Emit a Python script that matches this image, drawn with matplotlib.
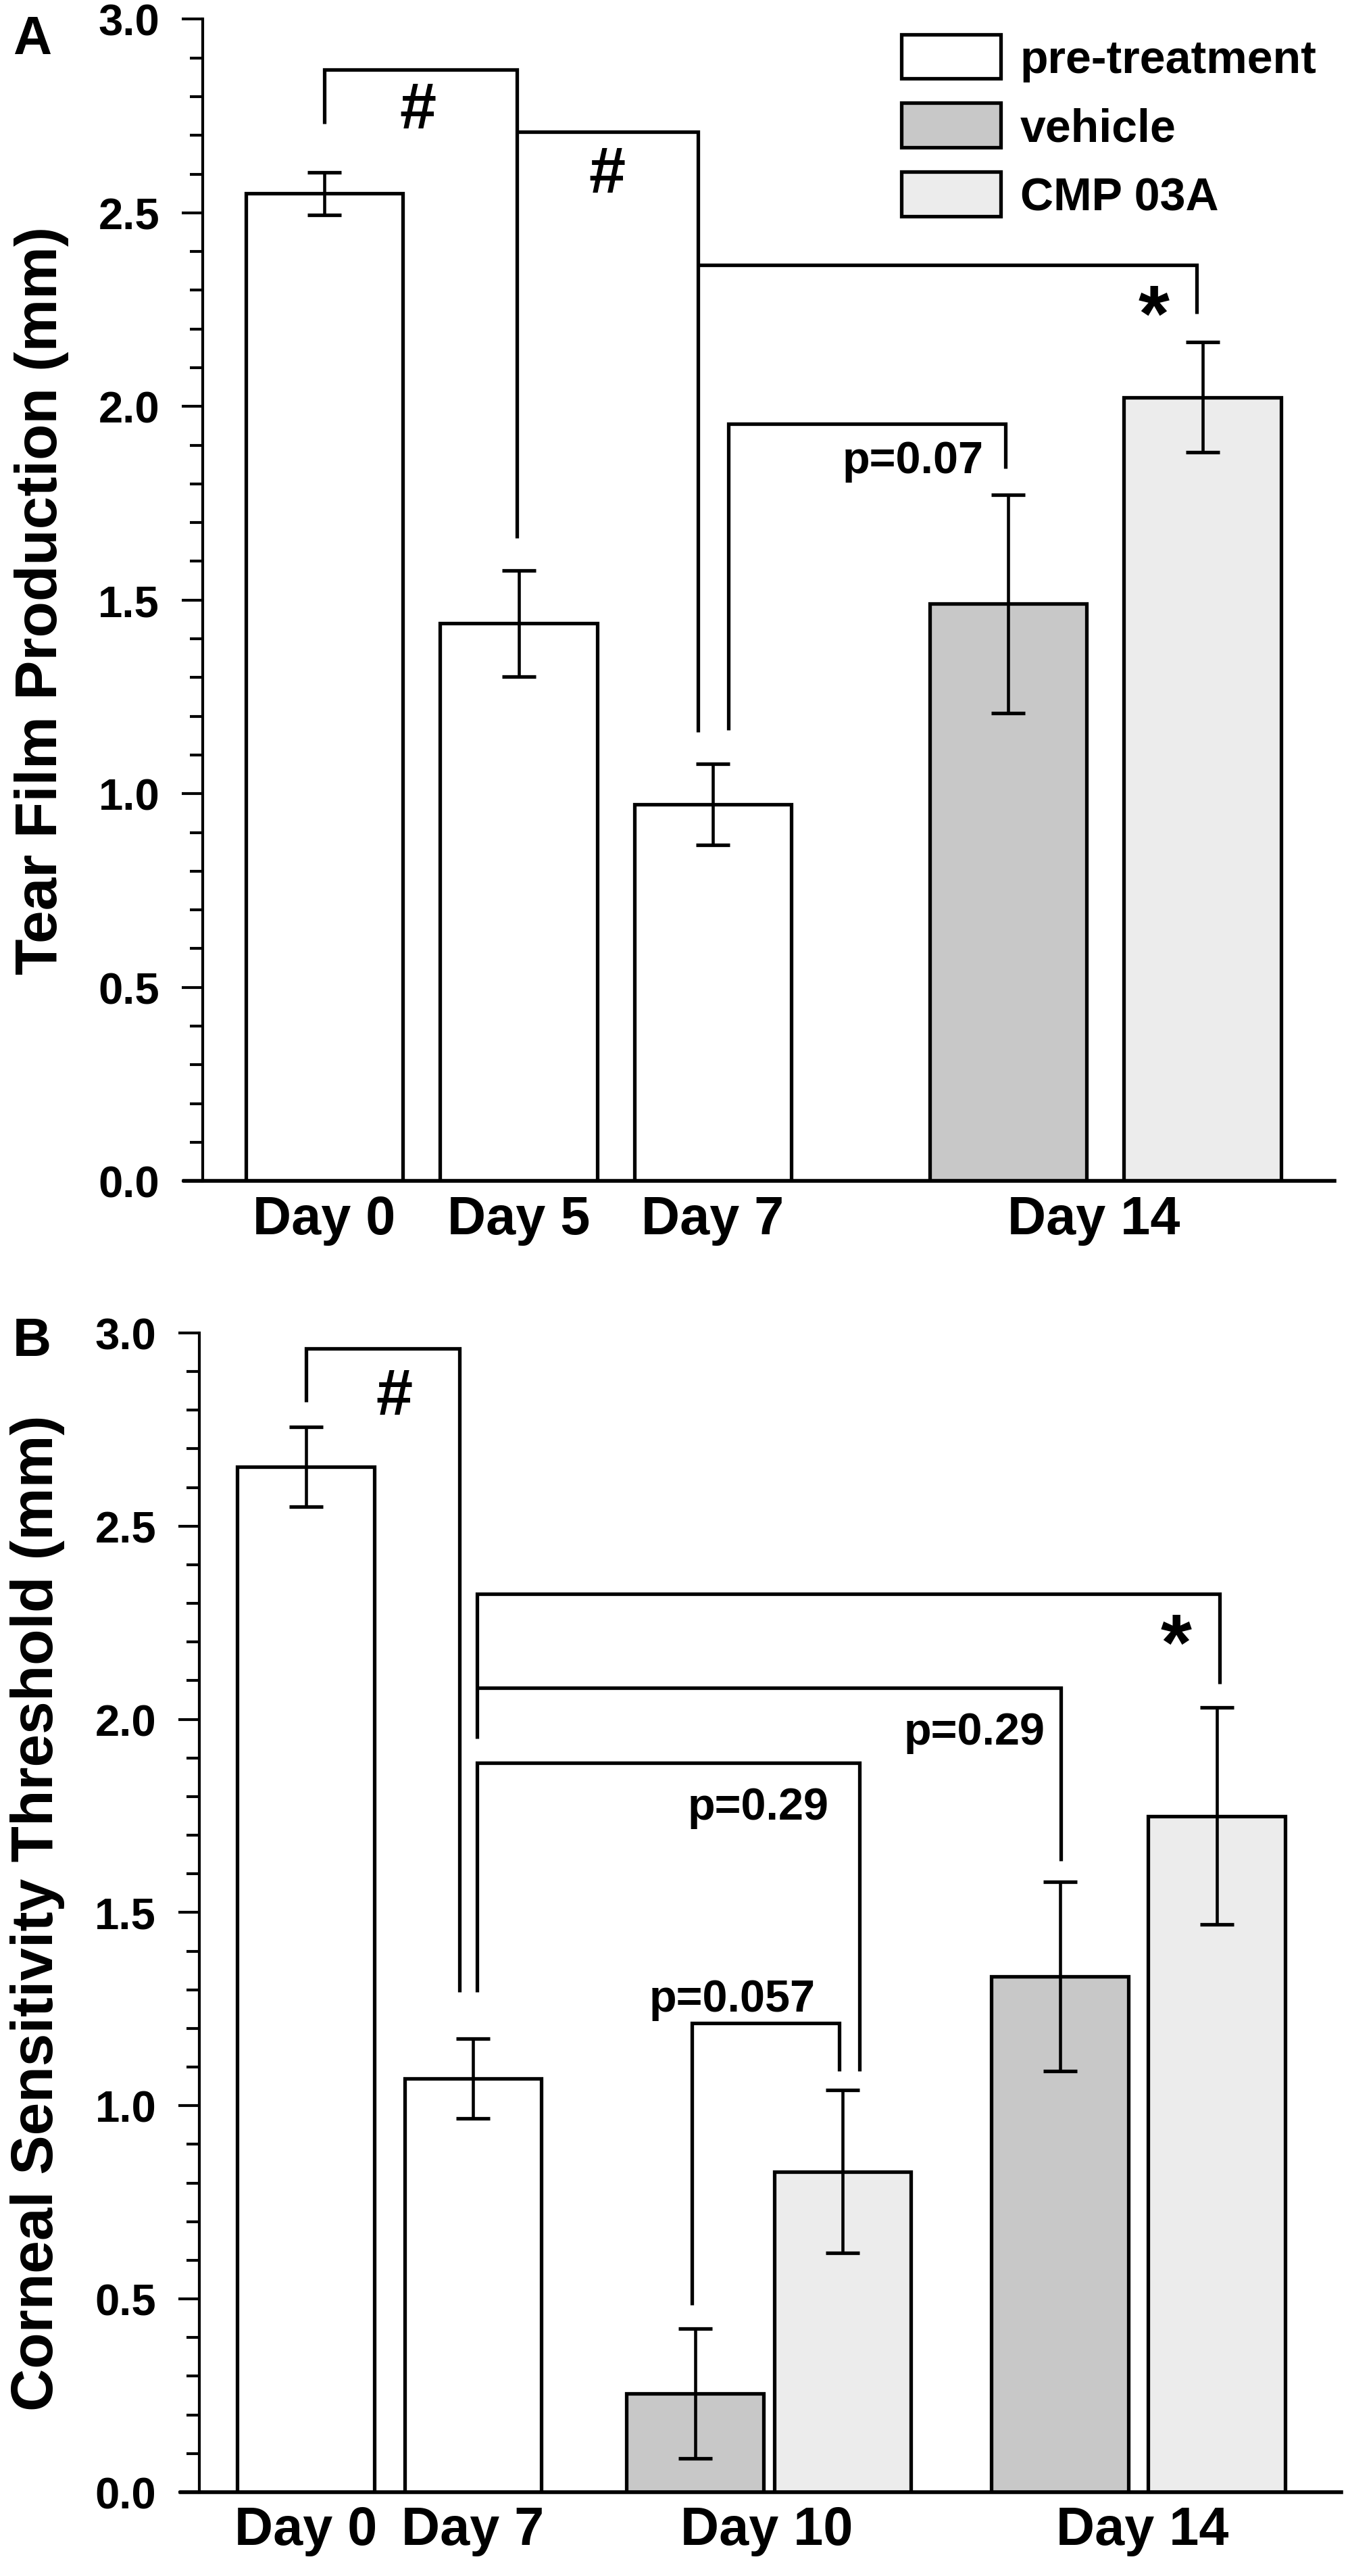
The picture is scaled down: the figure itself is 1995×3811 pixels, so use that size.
import numpy as np
import matplotlib
matplotlib.use("Agg")
import matplotlib.pyplot as plt
from matplotlib.patches import Patch
from matplotlib.ticker import MultipleLocator, FormatStrFormatter

plt.rcParams['font.family'] = ['Liberation Sans', 'DejaVu Sans']
plt.rcParams['font.weight'] = 'bold'

# colours of the three groups
C_PRE = 'white'
C_VEH = '#c8c8c8'
C_CMP = '#ececec'

# ---- panel A: tear film production ----
a_pos = [0, 1, 2, 3.52, 4.52]
a_mean = [2.55, 1.44, 0.973, 1.49, 2.024]
a_err = [0.055, 0.137, 0.105, 0.282, 0.142]
a_col = [C_PRE, C_PRE, C_PRE, C_VEH, C_CMP]
a_tick_pos = [0, 1, 2, 3.96]
a_tick_lab = ['Day 0', 'Day 5', 'Day 7', 'Day 14']
# brackets: x left, y left end, x right, y right end, y top
a_brackets = [
    (0.0, 2.73, 0.99, 1.66, 2.87),
    (0.99, 2.71, 1.923, 1.16, 2.71),
    (1.923, 2.366, 4.49, 2.24, 2.366),
    (2.08, 1.165, 3.506, 1.84, 1.955),
]
# annotations: text, x, y (baseline), size, ha
a_notes = [
    ('#', 0.483, 2.72, 70, 'center'),
    ('#', 1.457, 2.553, 70, 'center'),
    ('*', 4.27, 2.17, 85, 'center'),
    ('p=0.07', 3.395, 1.83, 48, 'right'),
]

# ---- panel B: corneal sensitivity threshold ----
b_pos = [0, 1.1, 2.56, 3.53, 4.96, 5.99]
b_mean = [2.653, 1.07, 0.255, 0.83, 1.335, 1.75]
b_err = [0.103, 0.103, 0.168, 0.21, 0.245, 0.28]
b_col = [C_PRE, C_PRE, C_VEH, C_CMP, C_VEH, C_CMP]
b_tick_pos = [0, 1.1, 3.03, 5.5]
b_tick_lab = ['Day 0', 'Day 7', 'Day 10', 'Day 14']
b_brackets = [
    (0.0, 2.821, 1.009, 1.294, 2.96),
    (1.124, 1.95, 6.009, 2.092, 2.325),
    (1.124, 2.082, 4.964, 1.634, 2.082),
    (1.124, 1.294, 3.64, 1.09, 1.887),
    (2.538, 0.485, 3.507, 1.09, 1.214),
]
b_notes = [
    ('#', 0.582, 2.79, 70, 'center'),
    ('*', 5.724, 2.13, 85, 'center'),
    ('p=0.29', 4.862, 1.936, 48, 'right'),
    ('p=0.29', 3.44, 1.742, 48, 'right'),
    ('p=0.057', 3.351, 1.245, 48, 'right'),
]

LW = 3.8


def draw_panel(ax, pos, mean, err, cols, width, tpos, tlab, brackets, notes, ylabel, xlim):
    ax.bar(pos, mean, width=width, color=cols, edgecolor='black', linewidth=LW, zorder=2)
    ax.errorbar(pos, mean, yerr=err, fmt='none', ecolor='black', elinewidth=3.3,
                capsize=18, capthick=3.8, zorder=3)
    for xl, yl, xr, yr, top in brackets:
        ax.plot([xl, xl, xr, xr], [yl, top, top, yr], color='black', lw=LW,
                solid_joinstyle='miter', solid_capstyle='butt', zorder=3)
    for txt, x, y, size, ha in notes:
        ax.text(x, y, txt, fontsize=size, ha=ha, va='baseline', fontweight='bold')

    ax.set_xlim(*xlim)
    ax.set_ylim(0, 3.0)
    ax.yaxis.set_major_locator(MultipleLocator(0.5))
    ax.yaxis.set_minor_locator(MultipleLocator(0.1))
    ax.yaxis.set_major_formatter(FormatStrFormatter('%.1f'))
    ax.tick_params(axis='y', which='major', length=22, width=3, labelsize=47, pad=24)
    ax.tick_params(axis='y', which='minor', length=13.5, width=3)
    ax.set_xticks(tpos)
    ax.set_xticklabels(tlab)
    ax.tick_params(axis='x', length=0, labelsize=57, pad=14)
    for s in ['top', 'right', 'bottom']:
        ax.spines[s].set_visible(False)
    ax.spines['left'].set_linewidth(3)
    ax.axhline(0, xmin=-0.016, xmax=1, color='black', lw=4, clip_on=False, zorder=4)
    ax.set_ylabel(ylabel, fontsize=63, fontweight='bold')
    ax.yaxis.set_label_coords(-0.118, 0.5)


fig = plt.figure(figsize=(19.95, 38.12), dpi=100)

axA = fig.add_axes([0.1504, 0.5414, 0.8396, 0.4509])
draw_panel(axA, a_pos, a_mean, a_err, a_col, 0.81, a_tick_pos, a_tick_lab,
           a_brackets, a_notes, 'Tear Film Production (mm)', (-0.626, 5.2))

handles = [Patch(facecolor=C_PRE, edgecolor='black', linewidth=LW),
           Patch(facecolor=C_VEH, edgecolor='black', linewidth=LW),
           Patch(facecolor=C_CMP, edgecolor='black', linewidth=LW)]
axA.legend(handles, ['pre-treatment', 'vehicle', 'CMP 03A'], loc='upper left',
           bbox_to_anchor=(0.617, 0.987), frameon=False, fontsize=49,
           handlelength=2.17, handleheight=1.1, handletextpad=0.42,
           labelspacing=0.47, borderpad=0, borderaxespad=0)

axB = fig.add_axes([0.1479, 0.03253, 0.8471, 0.4499])
draw_panel(axB, b_pos, b_mean, b_err, b_col, 0.9, b_tick_pos, b_tick_lab,
           b_brackets, b_notes, 'Corneal Sensitivity Threshold (mm)', (-0.70, 6.81))

fig.text(19 / 1995, 1 - 22 / 3812, 'A', fontsize=57, fontweight='bold', va='top', ha='left')
fig.text(19 / 1995, 1 - 1948 / 3812, 'B', fontsize=57, fontweight='bold', va='top', ha='left')

fig.savefig('out.png', dpi=100)
